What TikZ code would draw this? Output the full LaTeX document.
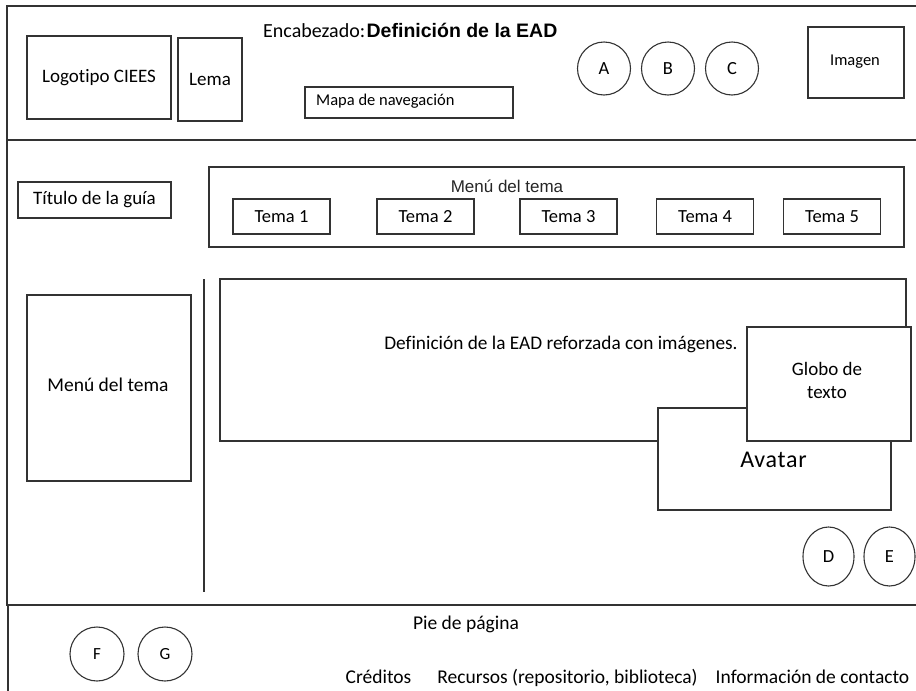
\documentclass[tikz,border=0pt]{standalone}
\usepackage{fontspec}
\usetikzlibrary{shapes.geometric}
\setmainfont{Carlito}[Ligatures=NoCommon]
\newfontfamily\arialf{Liberation Sans}
\newcommand\fsz[2]{\fontsize{#1}{#2}\selectfont}
\begin{document}
\begin{tikzpicture}[x=1pt,y=-1pt,
  frame/.style={draw=black!80,line width=1.3pt},
  box/.style={draw=black!80,line width=1.3pt,rectangle,inner sep=0pt,fill=white},
  circ/.style={draw=black!80,line width=1.1pt,circle,inner sep=0pt,minimum size=#1},
  circ/.default=53pt,
  oval/.style={draw=black!80,line width=1.1pt,ellipse,inner sep=0pt,minimum width=51pt,minimum height=59pt},
  txt/.style={inner sep=0pt},
  tema/.style={box,minimum width=97pt,minimum height=35pt,font=\fsz{18.5}{22}}]
\useasboundingbox (0,0) rectangle (916,691);
\begin{scope}
  \clip (0,0) rectangle (916,691);
  \draw[frame] (7,6) rectangle (930,140);
  \draw[frame] (7,140) rectangle (930,605);
  \draw[frame] (8,605) rectangle (930,700);

  % header
  \node[box,minimum width=144pt,minimum height=83pt,font=\fsz{19}{23}] (logo) at (99,77.5) {Logotipo CIEES};
  \node[box,minimum width=64pt,minimum height=83pt,font=\fsz{19}{23}] (lema) at (210,79.5) {Lema};
  \node[box,minimum width=208pt,minimum height=31pt] (mapa) at (409,102.5) {};
  \node[txt,anchor=west,font=\fsz{16.5}{20}] (mapatxt) at (316,101.5) {Mapa de navegación};
  \node[txt,anchor=base west] (enc) at (263,37) {\fsz{20}{24}Encabezado:\kern1.5pt{\arialf\bfseries\fsz{19.5}{24}Definición de la EAD}};
  \node[circ,font=\fsz{18.5}{22}] (ca) at (604,68.5) {A};
  \node[circ,font=\fsz{18.5}{22}] (cb) at (668,68.5) {B};
  \node[circ,font=\fsz{18.5}{22}] (cc) at (732,68.5) {C};
  \node[box,minimum width=96pt,minimum height=71pt] (imagen) at (856,62.5) {};
  \node[txt,font=\fsz{16.5}{20}] (imagentxt) at (855,62) {Imagen};

  % body
  \node[box,minimum width=153pt,minimum height=36pt,font=\fsz{19}{23}] (titulo) at (94.5,200) {Título de la guía};
  \node[box,minimum width=695pt,minimum height=80pt] (menutop) at (556.5,207) {};
  \node[txt,font=\arialf\fsz{17}{20},text=black!85] (menutit) at (507,186) {Menú del tema};
  \node[tema] (t1) at (281.5,216.5) {Tema 1};
  \node[tema] (t2) at (425.5,216.5) {Tema 2};
  \node[tema] (t3) at (568.5,216.5) {Tema 3};
  \node[tema] (t4) at (705,216.5) {Tema 4};
  \node[tema] (t5) at (832,216.5) {Tema 5};

  \node[box,minimum width=686pt,minimum height=162pt] (contenido) at (563,360) {};
  \node[txt,font=\fsz{19.3}{23}] (deftxt) at (561,344) {Definición de la EAD reforzada con imágenes.};
  \coordinate (sepA) at (204,279);
  \coordinate (sepB) at (204,592);
  \draw[frame] (sepA) -- (sepB);
  \node[box,minimum width=164pt,minimum height=186pt] (menuizq) at (109,388) {};
  \node[txt,font=\fsz{19.5}{23}] (menuizqtxt) at (108,385) {Menú del tema};
  \node[box,minimum width=233pt,minimum height=102pt] (avatar) at (774.5,459) {};
  \node[txt,font=\fsz{24}{28}\addfontfeatures{LetterSpace=3}] (avatartxt) at (773.5,460) {Avatar};
  \node[box,minimum width=164pt,minimum height=114pt] (globo) at (829,384) {};
  \node[txt,align=center,font=\fsz{19}{23}] (globotxt) at (827,380) {Globo de\\texto};
  \node[oval,font=\fsz{18.5}{22}] (cd) at (828.5,556.5) {D};
  \node[oval,font=\fsz{18.5}{22}] (ce) at (889.5,556.5) {E};

  % footer
  \node[txt,anchor=base,font=\fsz{19.5}{23}] (pie) at (466,629) {Pie de página};
  \node[circ=54pt,font=\fsz{17}{20}] (cf) at (97,654) {F};
  \node[circ=54pt,font=\fsz{17}{20}] (cg) at (165,654) {G};
  \node[txt,anchor=base,font=\fsz{19.5}{23}] (creditos) at (378.5,683) {Créditos};
  \node[txt,anchor=base,font=\fsz{19.5}{23}] (recursos) at (567.5,683) {Recursos (repositorio, biblioteca)};
  \node[txt,anchor=base,font=\fsz{19.5}{23}] (info) at (812.5,683) {Información de contacto};
\end{scope}
\end{tikzpicture}
\end{document}
